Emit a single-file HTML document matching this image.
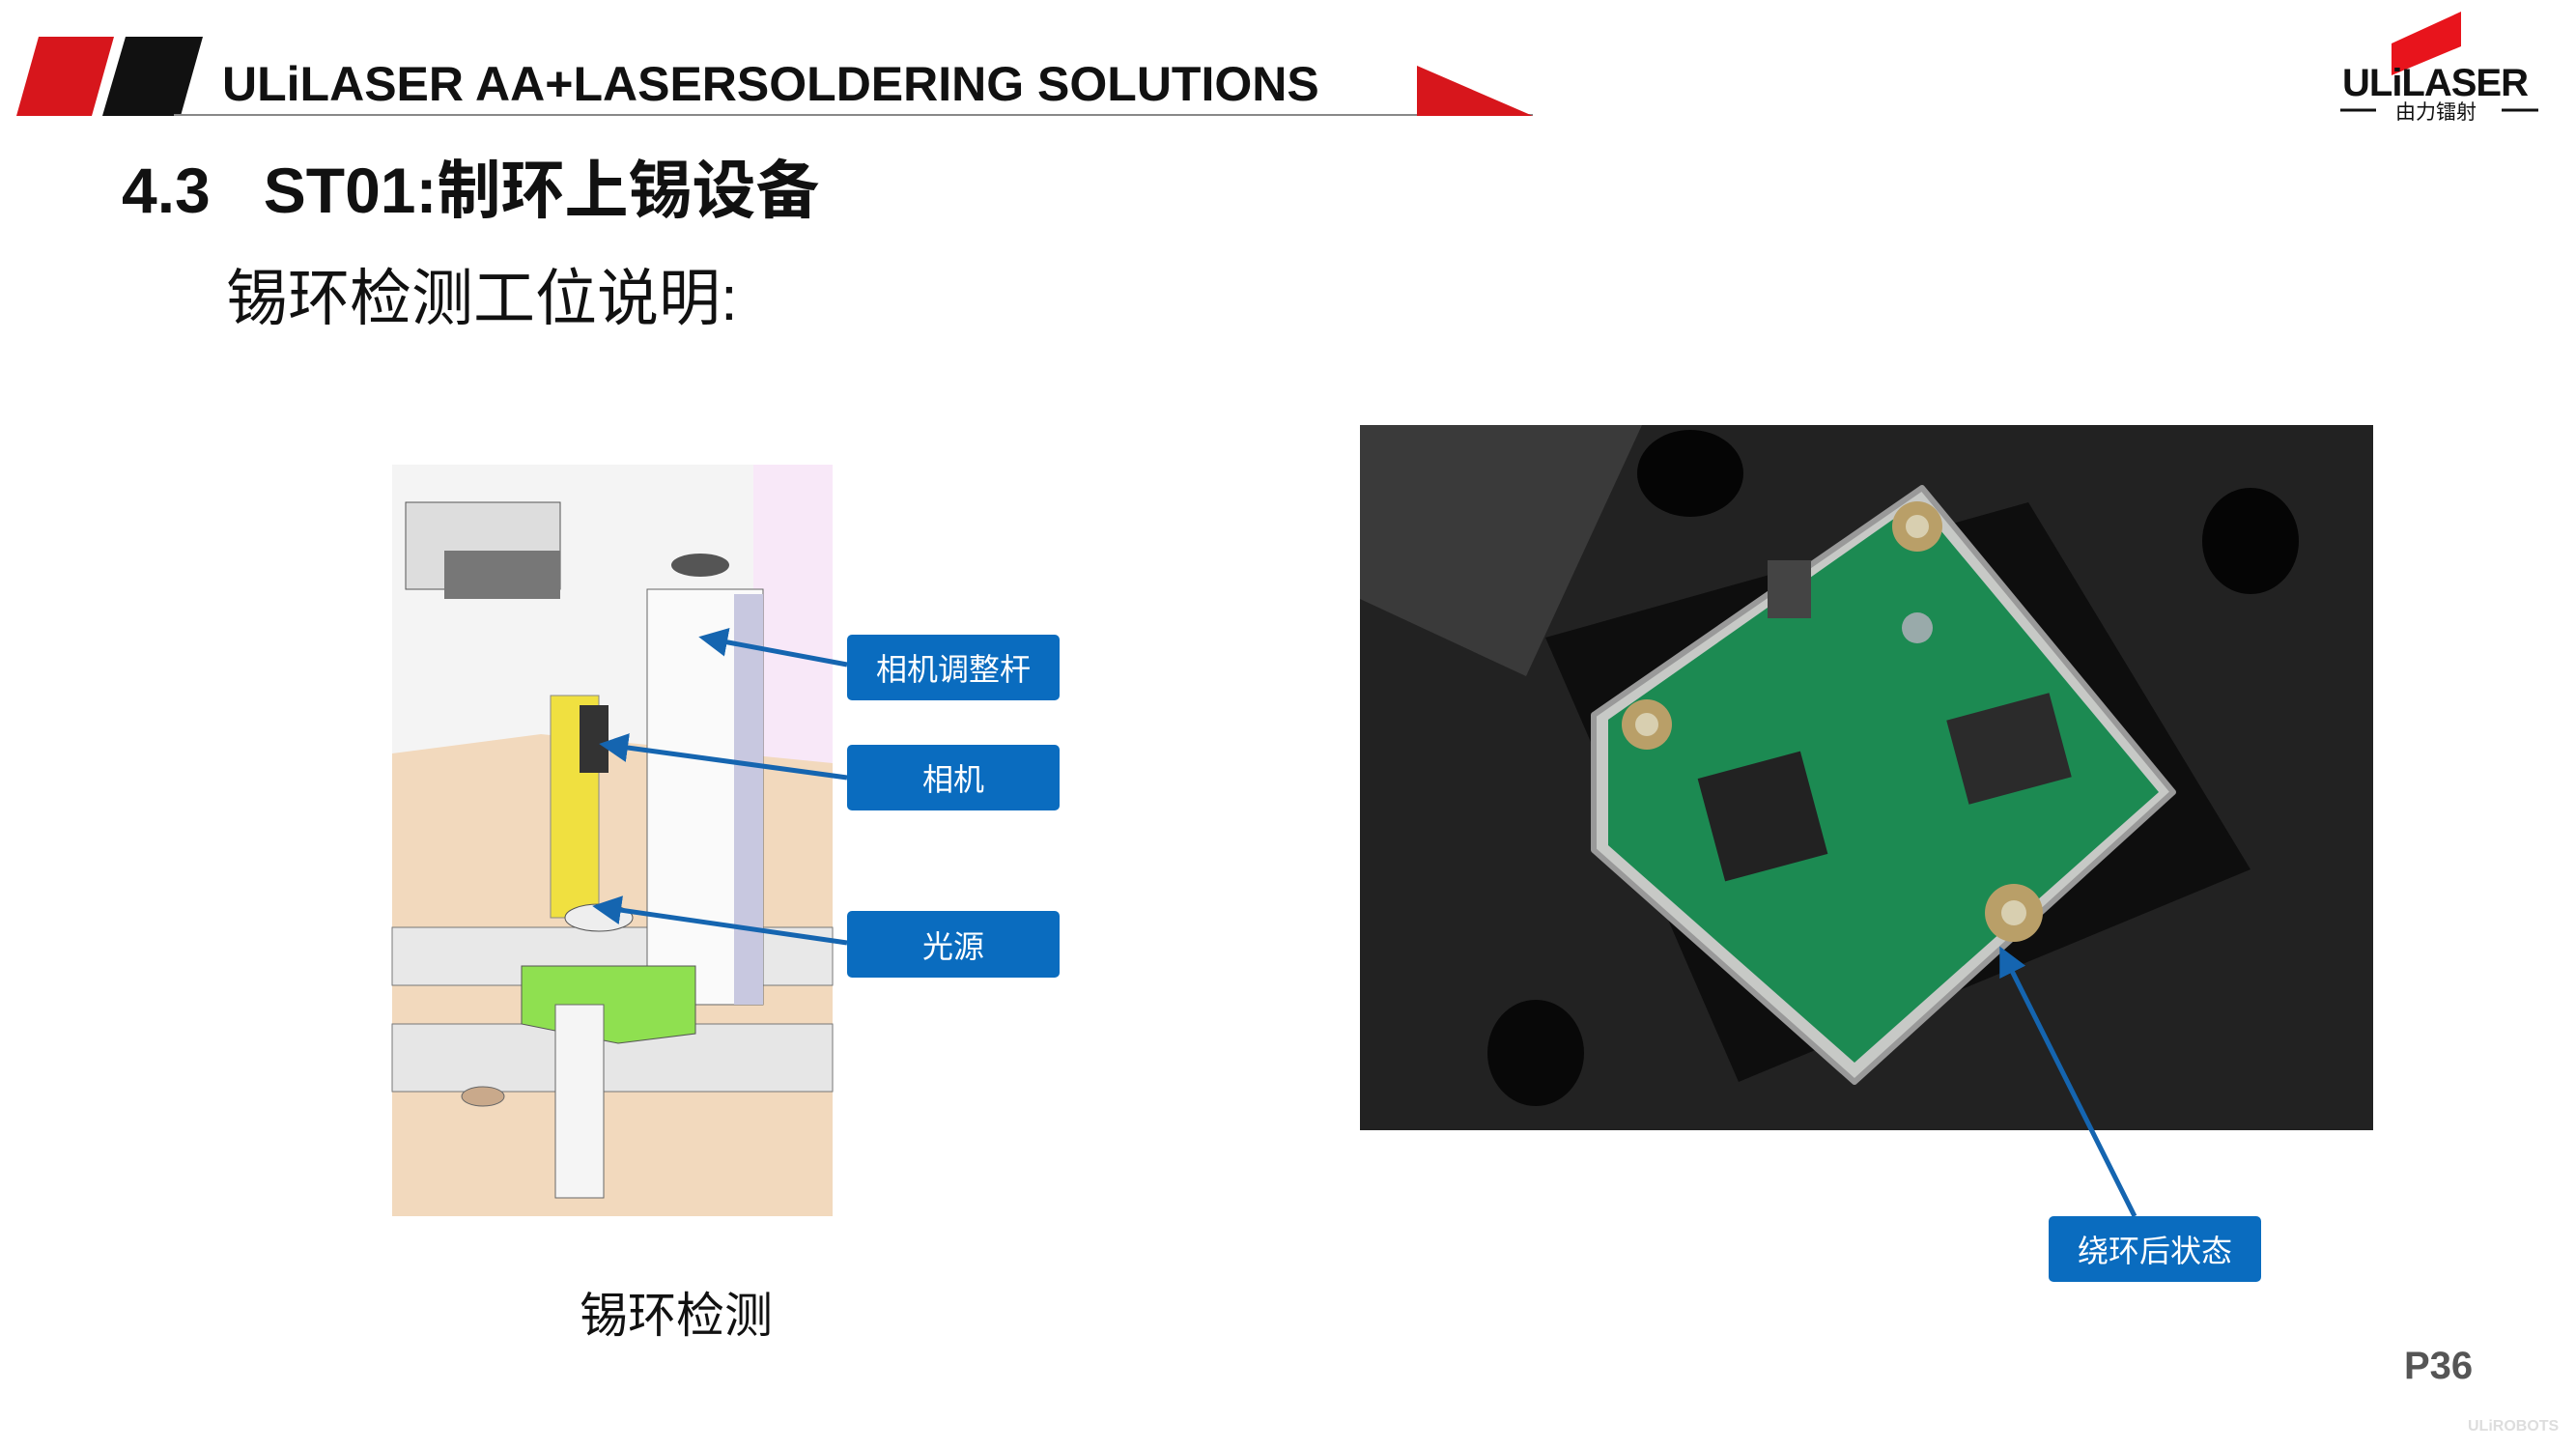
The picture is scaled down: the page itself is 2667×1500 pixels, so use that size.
<!DOCTYPE html>
<html><head><meta charset="utf-8"><style>
body{margin:0;width:2667px;height:1500px;background:#fff;overflow:hidden;position:relative;font-family:"Liberation Sans","Noto Sans CJK SC",sans-serif}
.t{position:absolute;white-space:nowrap}
.box{position:absolute;background:#0a6cbf;color:#fff;font-size:32px;display:flex;align-items:center;justify-content:center;border-radius:5px;font-family:"Liberation Sans","Noto Sans CJK SC",sans-serif}
</style></head><body>
<svg width="2667" height="1500" style="position:absolute;left:0;top:0">
<polygon points="40,38 118,38 95,120 17,120" fill="#d7161c"/>
<polygon points="130,38 210,38 187,120 106,120" fill="#111"/>
<line x1="180" y1="119" x2="1587" y2="119" stroke="#888" stroke-width="2"/>
<polygon points="1467,68 1587,120 1467,120" fill="#d7161c"/>
<polygon points="2476,45 2548,12 2548,48 2476,78" fill="#e8141c"/>
<line x1="2423" y1="114" x2="2460" y2="114" stroke="#111" stroke-width="3"/>
<line x1="2590" y1="114" x2="2628" y2="114" stroke="#111" stroke-width="3"/>
<rect x="406" y="481" width="456" height="778" fill="#f4f4f4"/>
<rect x="780" y="481" width="82" height="400" fill="#f8e8f8"/>
<polygon points="406,780 560,760 862,790 862,1259 406,1259" fill="#f2d9bd"/>
<rect x="406" y="960" width="456" height="60" fill="#e8e8e8" stroke="#777"/>
<rect x="406" y="1060" width="456" height="70" fill="#e6e6e6" stroke="#777"/>
<rect x="420" y="520" width="160" height="90" fill="#ddd" stroke="#555"/>
<rect x="460" y="570" width="120" height="50" fill="#777"/>
<rect x="670" y="610" width="120" height="430" fill="#fafafa" stroke="#666"/>
<rect x="760" y="615" width="30" height="425" fill="#c8c8e0"/>
<rect x="570" y="720" width="50" height="230" fill="#f0e040" stroke="#888"/>
<rect x="600" y="730" width="30" height="70" fill="#333"/>
<polygon points="540,1000 720,1000 720,1070 640,1080 540,1060" fill="#8fe050" stroke="#555"/>
<rect x="575" y="1040" width="50" height="200" fill="#f5f5f5" stroke="#666"/>
<ellipse cx="620" cy="950" rx="35" ry="14" fill="#eee" stroke="#555"/>
<ellipse cx="725" cy="585" rx="30" ry="12" fill="#555"/>
<ellipse cx="500" cy="1135" rx="22" ry="10" fill="#c9a98b" stroke="#666"/>
<rect x="1408" y="440" width="1049" height="730" fill="#222"/>
<polygon points="1408,440 1700,440 1580,700 1408,620" fill="#3a3a3a"/>
<polygon points="1600,660 2100,520 2330,900 1800,1120" fill="#0e0e0e"/>
<ellipse cx="1750" cy="490" rx="55" ry="45" fill="#050505"/>
<ellipse cx="2330" cy="560" rx="50" ry="55" fill="#050505"/>
<ellipse cx="1590" cy="1090" rx="50" ry="55" fill="#080808"/>
<polygon points="1650,740 1990,505 2250,820 1920,1120 1650,880" fill="#c7c9c6" stroke="#999" stroke-width="6" stroke-linejoin="round"/>
<polygon points="1665,745 1985,520 2235,820 1920,1100 1665,875" fill="#1c8a52" stroke-linejoin="round"/>
<rect x="1770" y="790" width="110" height="110" fill="#222" transform="rotate(-15 1825 845)"/>
<rect x="2025" y="730" width="110" height="90" fill="#2b2b2b" transform="rotate(-15 2080 775)"/>
<rect x="1830" y="580" width="45" height="60" fill="#444"/>
<circle cx="1985" cy="545" r="26" fill="#b99f68"/><circle cx="1985" cy="545" r="12" fill="#d8cfb0"/>
<circle cx="1705" cy="750" r="26" fill="#b99f68"/><circle cx="1705" cy="750" r="12" fill="#d8cfb0"/>
<circle cx="2085" cy="945" r="30" fill="#b99f68"/><circle cx="2085" cy="945" r="13" fill="#d8cfb0"/>
<circle cx="1985" cy="650" r="16" fill="#9aa"/>
<defs><marker id="a" markerWidth="6" markerHeight="6" refX="3" refY="3" orient="auto"><path d="M0,0L6,3L0,6z" fill="#1565b0"/></marker></defs>
<g stroke="#1565b0" stroke-width="5" fill="none" marker-end="url(#a)">
<line x1="877" y1="688" x2="738" y2="662"/>
<line x1="877" y1="805" x2="635" y2="772"/>
<line x1="877" y1="976" x2="628" y2="940"/>
<line x1="2210" y1="1259" x2="2077" y2="993"/>
</g>
</svg>
<div class="t" style="left:230px;top:58px;font-size:50px;font-weight:bold;color:#111">ULiLASER AA+LASERSOLDERING SOLUTIONS</div>
<div class="t" style="left:2425px;top:64px;font-size:40px;font-weight:bold;color:#111;letter-spacing:-1px">ULiLASER</div>
<div class="t" style="left:2480px;top:100px;font-size:21px;color:#111">由力镭射</div>
<div class="t" style="left:126px;top:144px;font-size:66px;font-weight:bold;color:#111">4.3&nbsp;&nbsp;&nbsp;ST01:制环上锡设备</div>
<div class="t" style="left:234px;top:258px;font-size:64px;color:#111">锡环检测工位说明:</div>
<div class="box" style="left:877px;top:657px;width:220px;height:68px">相机调整杆</div>
<div class="box" style="left:877px;top:771px;width:220px;height:68px">相机</div>
<div class="box" style="left:877px;top:943px;width:220px;height:69px">光源</div>
<div class="box" style="left:2121px;top:1259px;width:220px;height:68px">绕环后状态</div>
<div class="t" style="left:600px;top:1322px;font-size:50px;color:#111">锡环检测</div>
<div class="t" style="left:2489px;top:1392px;font-size:40px;font-weight:bold;color:#555">P36</div>
<div class="t" style="left:2555px;top:1468px;font-size:16px;font-weight:bold;color:#ddd">ULiROBOTS</div>
</body></html>
